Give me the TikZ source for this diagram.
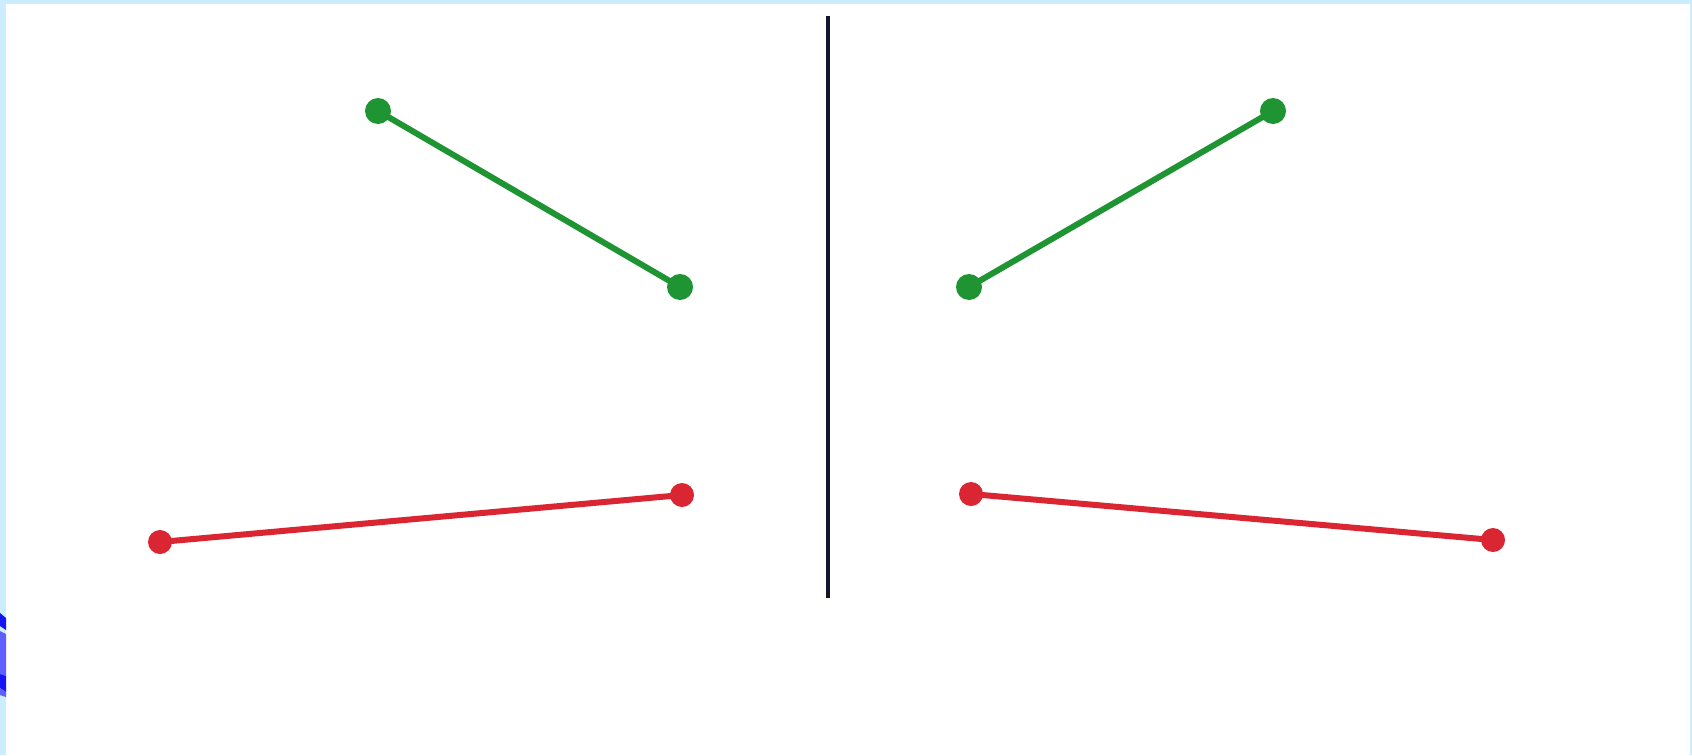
\documentclass[tikz,border=0pt]{standalone}
\definecolor{bordercol}{RGB}{204,236,255}
\definecolor{segGreen}{RGB}{30,148,50}
\definecolor{segRed}{RGB}{218,38,50}
\definecolor{axisCol}{RGB}{20,20,45}
\definecolor{blueDark}{RGB}{20,20,245}
\definecolor{blueMid}{RGB}{95,95,255}
\begin{document}
\begin{tikzpicture}[x=1pt,y=-1pt,
  gdot/.style={circle,fill=segGreen,inner sep=0pt,minimum size=26pt},
  rdot/.style={circle,fill=segRed,inner sep=0pt,minimum size=24pt},
  gseg/.style={draw=segGreen,line width=6pt},
  rseg/.style={draw=segRed,line width=6pt},
  axisline/.style={draw=axisCol,line width=4.5pt}]
\useasboundingbox (0,0) rectangle (1692,755);
\fill[bordercol] (0,0) rectangle (1692,755);
\fill[white] (6,4) rectangle (1690,755);
% blue fragment at left edge
\fill[blueDark] (0,613) -- (6,618) -- (6,630) -- (0,626) -- cycle;
\fill[blueMid] (0,631) -- (6,634) -- (6,676) -- (0,674) -- cycle;
\fill[blueDark] (0,674) -- (6,676) -- (6,692) -- (0,688) -- cycle;
\fill[blueMid] (0,688) -- (6,692) -- (6,697) -- (0,695) -- cycle;
% axis
\coordinate (axTop) at (828,16);
\coordinate (axBot) at (828,598);
\draw[axisline] (axTop) -- (axBot);
% left side
\node[gdot] (lg1) at (378,111) {};
\node[gdot] (lg2) at (680,287) {};
\node[rdot] (lr1) at (160,542) {};
\node[rdot] (lr2) at (682,495) {};
% right side
\node[gdot] (rg1) at (969,287) {};
\node[gdot] (rg2) at (1273,111) {};
\node[rdot] (rr1) at (971,494) {};
\node[rdot] (rr2) at (1493,540) {};
\draw[gseg] (lg1.center) -- (lg2.center);
\draw[rseg] (lr1.center) -- (lr2.center);
\draw[gseg] (rg1.center) -- (rg2.center);
\draw[rseg] (rr1.center) -- (rr2.center);
\end{tikzpicture}
\end{document}
